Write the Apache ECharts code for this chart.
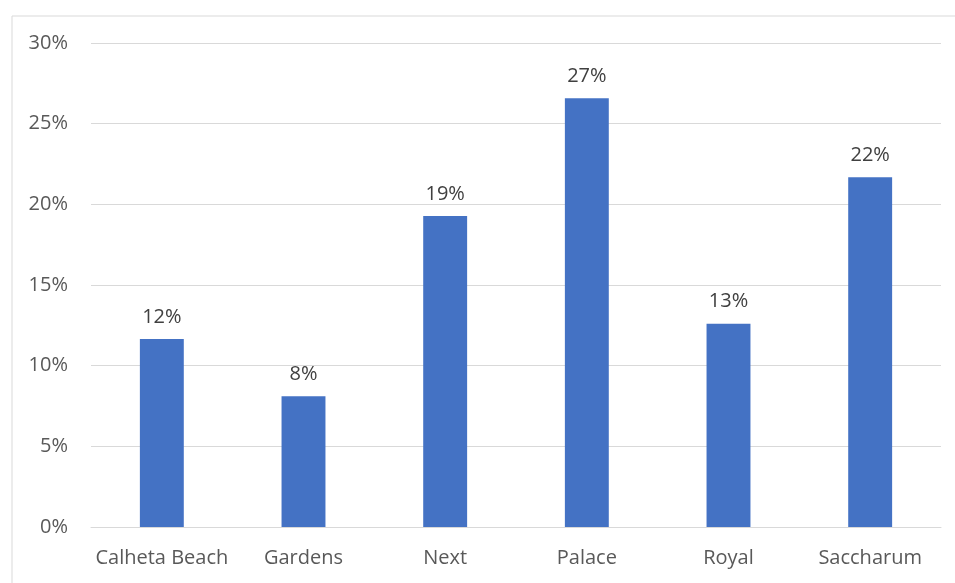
<!DOCTYPE html>
<html>
<head>
<meta charset="utf-8">
<script src="https://cdn.jsdelivr.net/npm/echarts@6/dist/echarts.min.js"></script>
<style>
  html, body { margin: 0; padding: 0; background: #fff; }
  #chart { width: 955px; height: 583px; }
</style>
</head>
<body>
<div id="chart"></div>
<script>
// Share of guests by property
const categories = ['Calheta Beach', 'Gardens', 'Next', 'Palace', 'Royal', 'Saccharum'];
const shares = [11.65, 8.1, 19.28, 26.58, 12.6, 21.68];
const yTicks = { min: 0, max: 30, interval: 5 };

const textColor = '#595959';
const lineColor = '#d9d9d9';
const fontFamily = '"Open Sans", "Noto Sans", sans-serif';

const chart = echarts.init(document.getElementById('chart'), null, { renderer: 'canvas' });
chart.setOption({
  backgroundColor: '#ffffff',
  animation: false,
  graphic: [{
    type: 'rect',
    left: 9.5, top: 13.5,
    shape: { width: 1000, height: 1000 },
    style: { fill: 'none', stroke: lineColor, lineWidth: 1 },
    silent: true
  }],
  grid: { left: 91, right: 14, top: 43, bottom: 56, containLabel: false },
  xAxis: {
    type: 'category',
    data: categories,
    axisLine: { show: true, lineStyle: { color: lineColor, width: 1 } },
    axisTick: { show: false },
    axisLabel: { color: textColor, fontSize: 20, fontFamily: fontFamily, margin: 21, interval: 0 }
  },
  yAxis: {
    type: 'value',
    min: yTicks.min, max: yTicks.max, interval: yTicks.interval,
    axisLine: { show: false },
    axisTick: { show: false },
    splitLine: { lineStyle: { color: lineColor, width: 1 } },
    axisLabel: {
      color: textColor, fontSize: 20, fontFamily: fontFamily, margin: 23,
      formatter: v => v + '%'
    }
  },
  series: [{
    type: 'bar',
    data: shares,
    barWidth: '31%',
    itemStyle: { color: '#4472C4' },
    label: {
      show: true,
      position: 'top',
      distance: 12,
      color: '#404040',
      fontSize: 20,
      fontFamily: fontFamily,
      formatter: p => Math.round(p.value) + '%'
    }
  }]
});
</script>
</body>
</html>
